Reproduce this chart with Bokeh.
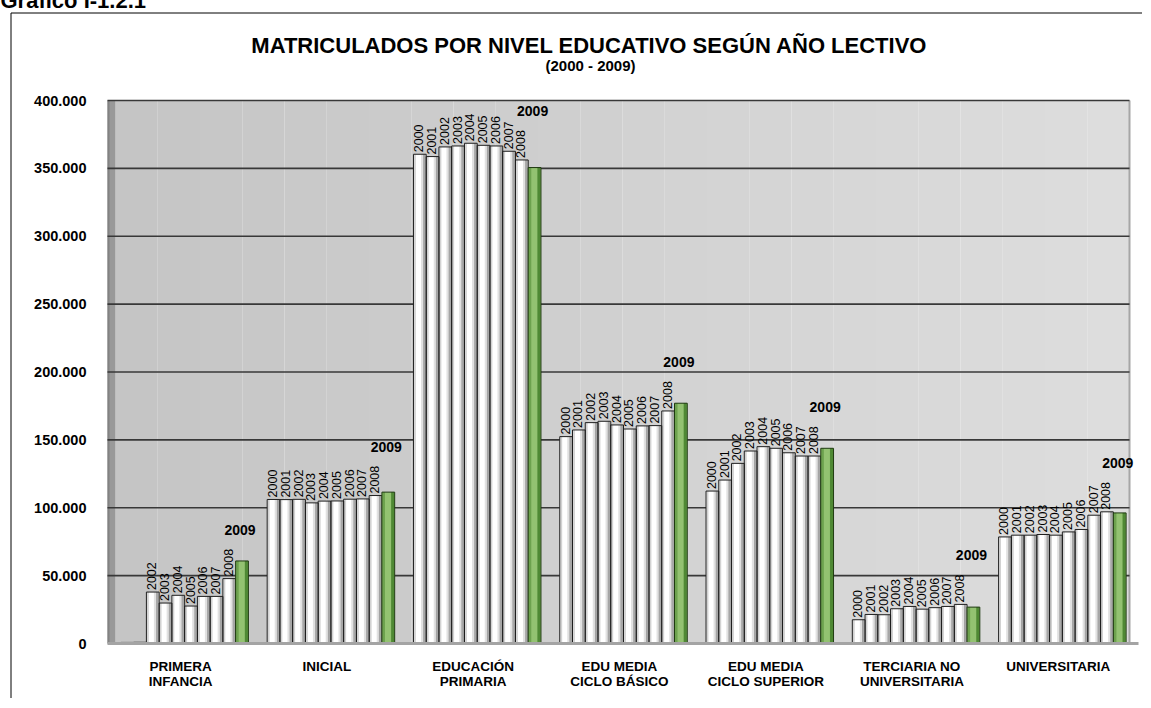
import numpy as np
from bokeh.plotting import figure
from bokeh.models import Range1d, FixedTicker, Label, BoxAnnotation, ColumnDataSource
from bokeh.embed import file_html
from bokeh.resources import INLINE
from bokeh.core.properties import value

# ---------------- data ----------------
categories = ["PRIMERA\nINFANCIA", "INICIAL", "EDUCACIÓN\nPRIMARIA", "EDU MEDIA\nCICLO BÁSICO",
              "EDU MEDIA\nCICLO SUPERIOR", "TERCIARIA NO\nUNIVERSITARIA", "UNIVERSITARIA"]
years = ["2000", "2001", "2002", "2003", "2004", "2005", "2006", "2007", "2008", "2009"]
primera_infancia = [800, 900, 37900, 29800, 35500, 27600, 34700, 34700, 47800, 60800]
inicial = [106100, 106000, 106200, 103600, 104900, 105000, 106300, 106500, 109000, 111500]
educacion_primaria = [360400, 358700, 365800, 366500, 368500, 367000, 366500, 362600, 356200, 350600]
media_basico = [152400, 157300, 162700, 163700, 161000, 158000, 160300, 160500, 171300, 177000]
media_superior = [112300, 120400, 132700, 141800, 145000, 143800, 140500, 138100, 138100, 143800]
terciaria_no_univ = [17500, 21400, 21200, 25600, 27300, 25300, 26400, 27300, 28800, 26800]
universitaria = [78500, 79800, 79800, 80300, 79800, 82200, 84000, 94500, 97000, 96200]
series = [primera_infancia, inicial, educacion_primaria, media_basico,
          media_superior, terciaria_no_univ, universitaria]
yticks = [0, 50000, 100000, 150000, 200000, 250000, 300000, 350000, 400000]
ytick_labels = ["0", "50.000", "100.000", "150.000", "200.000", "250.000", "300.000", "350.000", "400.000"]
title_text = "MATRICULADOS POR NIVEL EDUCATIVO SEGÚN AÑO LECTIVO"
subtitle_text = "(2000 - 2009)"
heading_text = "Gráfico I-1.2.1"

# ---------------- layout (page pixels) ----------------
FIG_W, FIG_H = 1150, 706
ORIGIN = -8                      # figure's top-left on the page (negative margins)
L, R, T, B = 107, 1131, 100, 643  # plot area on the page
NG = len(categories)
YMAX = yticks[-1]
PX_X = (R - L) / NG
PX_Y = (B - T) / YMAX


def dx(px):
    return (px - L) / PX_X


def dy(py):
    return (B - py) / PX_Y


BW = 12.75 / PX_X      # bar width in group units
SHIFT = 4.0 / PX_X     # 3-D front-face shift
FONT = "Liberation Sans"

# ---------------- build sources ----------------
wx, wt, wl = [], [], []
gx, gt, gy = [], [], []
for i, vals in enumerate(series):
    for j, v in enumerate(vals):
        xc = i + 0.5 + SHIFT + (j - (len(years) - 1) / 2) * BW
        if years[j] == "2009":
            gx.append(xc)
            gt.append(v)
            gy.append(vals[j - 1])   # 2009 label sits above the 2008 label
        else:
            wx.append(xc)
            wt.append(v)
            wl.append(years[j] if v >= 5000 else "")

wx = np.array(wx)
gx = np.array(gx)
white = ColumnDataSource(dict(x=wx, top=wt, lab=wl,
                              xr=wx + BW * 0.36, xr2=wx + BW * 0.2, xl=wx - BW * 0.38))
green = ColumnDataSource(dict(x=gx, top=gt, laby=gy, lab=["2009"] * len(gx),
                              xr=gx + BW * 0.34, xl=gx - BW * 0.36))
grid = ColumnDataSource(dict(y=yticks[1:], x0=[0] * (len(yticks) - 1),
                             x1=[dx(1129)] * (len(yticks) - 1)))

p = figure(width=FIG_W, height=FIG_H,
           x_range=Range1d(dx(ORIGIN), dx(ORIGIN + FIG_W)),
           y_range=Range1d(dy(ORIGIN + FIG_H), dy(ORIGIN)),
           output_backend="svg", toolbar_location=None,
           min_border_left=0, min_border_right=0, min_border_top=0, min_border_bottom=0,
           styles={"margin-left": "-8px", "margin-top": "-8px"})
p.title.text = ""
p.title.visible = False
p.background_fill_color = "white"
p.border_fill_color = "white"
p.outline_line_color = None
p.xgrid.grid_line_color = None
p.ygrid.grid_line_color = None

# plot area (soft left-to-right gradient) + left 3-D wall
NB = 24
for k in range(NB):
    g = int(round(197 + (221 - 197) * k / (NB - 1)))
    x_a = dx(115) + (dx(1129) - dx(115)) * k / NB
    x_b = dx(115) + (dx(1129) - dx(115)) * (k + 1) / NB
    p.add_layout(BoxAnnotation(left=x_a, right=x_b, bottom=0, top=YMAX,
                               fill_color=(g, g, g), fill_alpha=1, line_color=None,
                               level="underlay"))
p.add_layout(BoxAnnotation(left=dx(1128), right=dx(1130), bottom=0, top=YMAX, fill_color="#a6a6a6",
                           fill_alpha=1, line_color=None, level="underlay"))
p.add_layout(BoxAnnotation(left=0, right=dx(115), bottom=0, top=YMAX, fill_color="#999999",
                           fill_alpha=1, line_color=None, level="underlay"))
p.add_layout(BoxAnnotation(left=0, right=dx(109), bottom=0, top=YMAX, fill_color="#828282",
                           fill_alpha=1, line_color=None, level="underlay"))

# grid lines
p.segment(x0="x0", x1="x1", y0="y", y1="y", source=grid, line_color="#383838", line_width=1.6)

# white bars with shading
p.vbar(x="x", top="top", bottom=0, width=BW, source=white, fill_color="white", line_color=None)
p.vbar(x="xr2", top="top", bottom=0, width=BW * 0.22, source=white, fill_color="#c8c8c8",
       fill_alpha=0.55, line_color=None)
p.vbar(x="xr", top="top", bottom=0, width=BW * 0.2, source=white, fill_color="#8a8a8a",
       fill_alpha=0.75, line_color=None)
p.vbar(x="xl", top="top", bottom=0, width=BW * 0.14, source=white, fill_color="#b4b4b4",
       fill_alpha=0.6, line_color=None)
p.vbar(x="x", top="top", bottom=0, width=BW, source=white, fill_alpha=0,
       line_color="#1e1e1e", line_width=1)

# green 2009 bars
p.vbar(x="x", top="top", bottom=0, width=BW, source=green, fill_color="#93c271", line_color=None)
p.vbar(x="xr", top="top", bottom=0, width=BW * 0.24, source=green, fill_color="#3f7a25",
       fill_alpha=0.8, line_color=None)
p.vbar(x="xl", top="top", bottom=0, width=BW * 0.2, source=green, fill_color="#5d9440",
       fill_alpha=0.7, line_color=None)
p.vbar(x="x", top="top", bottom=0, width=BW, source=green, fill_alpha=0,
       line_color="#1e3a10", line_width=1)

# year labels
p.text(x="x", y="top", text="lab", source=white, angle=np.pi / 2, text_align="left",
       text_baseline="middle", x_offset=-1, y_offset=-2, text_font=value(FONT),
       text_font_size="12.5px", text_color="black")
p.text(x="x", y="laby", text="lab", source=green, text_align="center", text_baseline="bottom",
       x_offset=-2, y_offset=-44, text_font=value(FONT), text_font_size="14px",
       text_font_style="bold", text_color="black")

# axes (fixed inside the canvas)
p.yaxis.fixed_location = 0
p.yaxis.ticker = FixedTicker(ticks=yticks)
p.yaxis.major_label_overrides = dict(zip(yticks, ytick_labels))
p.yaxis.axis_line_color = None
p.yaxis.major_tick_line_color = None
p.yaxis.major_tick_out = 0
p.yaxis.major_tick_in = 0
p.yaxis.minor_tick_line_color = None
p.yaxis.major_label_standoff = 21
p.yaxis.major_label_text_font = FONT
p.yaxis.major_label_text_font_size = "14.5px"
p.yaxis.major_label_text_font_style = "bold"
p.yaxis.major_label_text_color = "black"

xt = [i + 0.5 for i in range(NG)]
p.xaxis.fixed_location = 0
p.xaxis.bounds = (0, dx(1138))
p.xaxis.ticker = FixedTicker(ticks=xt)
p.xaxis.major_label_overrides = dict(zip(xt, categories))
p.xaxis.axis_line_color = "#a4a4a4"
p.xaxis.axis_line_width = 3
p.xaxis.major_tick_line_color = None
p.xaxis.major_tick_out = 0
p.xaxis.major_tick_in = 0
p.xaxis.minor_tick_line_color = None
p.xaxis.major_label_standoff = 15
p.xaxis.major_label_text_font = FONT
p.xaxis.major_label_text_font_size = "13.5px"
p.xaxis.major_label_text_line_height = 1.0
p.xaxis.major_label_text_font_style = "bold"
p.xaxis.major_label_text_color = "black"

# titles and outer frame
p.add_layout(Label(x=dx(589), y=dy(45), text=title_text, text_align="center",
                   text_baseline="alphabetic", text_font=FONT, text_font_size="22px",
                   text_font_style="bold", text_color="black"))
p.add_layout(Label(x=dx(590), y=dy(65), text=subtitle_text, text_align="center",
                   text_baseline="alphabetic", text_font=FONT, text_font_size="15px",
                   text_font_style="bold", text_color="black"))
p.add_layout(Label(x=dx(0), y=dy(0), text=heading_text, text_align="left",
                   text_baseline="alphabetic", text_font=FONT, text_font_size="22px",
                   text_font_style="bold", text_color="black"))
p.add_layout(BoxAnnotation(left=dx(10.5), right=dx(1600), top=dy(12.5), bottom=dy(900),
                           fill_alpha=0, line_color="black", line_alpha=1, line_width=1,
                           level="overlay"))

open("out.html", "w").write(file_html(p, INLINE))
